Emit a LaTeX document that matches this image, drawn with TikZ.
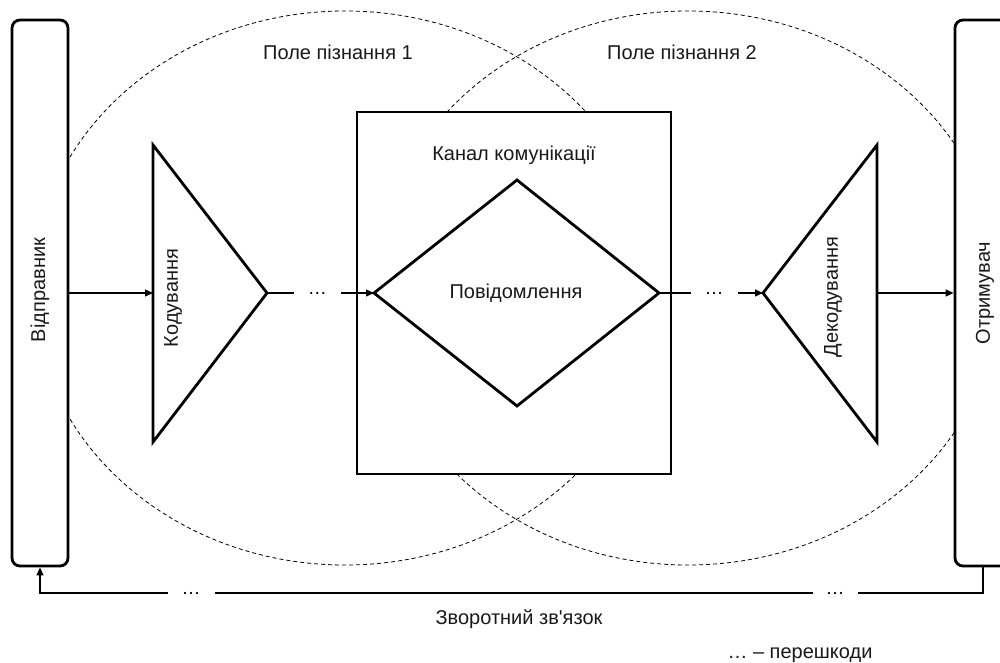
\documentclass[tikz,border=0pt]{standalone}
\usepackage{fontspec}
\setmainfont{Liberation Sans}[Ligatures=TeXOff]
\usetikzlibrary{arrows.meta}
\begin{document}
\begin{tikzpicture}[x=1pt,y=-1pt,
  thickline/.style={line width=2.8pt, line join=miter},
  box/.style={thickline, draw, fill=white, inner sep=0pt},
  conn/.style={line width=1.2pt},
  tip/.style={-{Triangle[length=8pt,width=7pt]}},
  field/.style={line width=0.8pt, dash pattern=on 4pt off 3pt},
  lbl/.style={font=\fontsize{20}{24}\selectfont, text=black!90, inner sep=0pt},
  gap/.style={fill=white, font=\fontsize{19}{22}\selectfont, inner xsep=14pt,
              inner ysep=3pt, text height=2pt, text depth=0pt}]

\useasboundingbox (0,0) rectangle (1000,663);
\fill[white] (0,0) rectangle (1000,663);
\clip (0,0) rectangle (1000,663);

% fields of knowledge
\draw[field] (345,288) ellipse [x radius=312, y radius=277];
\draw[field] (688,288) ellipse [x radius=312, y radius=277];

% sender and receiver
\node[box, rounded corners=8pt, minimum width=56pt, minimum height=546pt] (sender) at (40,293) {};
\node[box, rounded corners=8pt, minimum width=56pt, minimum height=546pt] (receiver) at (983,293) {};
\node[lbl, rotate=90] (sendertext) at (40,290) {Відправник};
\node[lbl, rotate=90] (receivertext) at (985,293) {Отримувач};

% communication channel
\node[box, minimum width=314pt, minimum height=362pt] (channel) at (514,293) {};
\node[lbl] (channeltext) at (514,155) {Канал комунікації};

% message
\coordinate (msgW) at (374,293);
\coordinate (msgN) at (517,180);
\coordinate (msgE) at (659,293);
\coordinate (msgS) at (517,406);
\draw[thickline, fill=white] (msgW) -- (msgN) -- (msgE) -- (msgS) -- cycle;
\node[lbl] (msgtext) at (516,293) {Повідомлення};

% encoding
\coordinate (encT) at (153,145);
\coordinate (encB) at (153,442);
\coordinate (encTip) at (267,293);
\coordinate (encIn) at (153,293);
\draw[thickline, fill=white] (encT) -- (encTip) -- (encB) -- cycle;
\node[lbl, rotate=90] (enctext) at (173,298) {Кодування};

% decoding
\coordinate (decT) at (877,145);
\coordinate (decB) at (877,442);
\coordinate (decTip) at (763,293);
\coordinate (decOut) at (877,293);
\draw[thickline, fill=white] (decT) -- (decTip) -- (decB) -- cycle;
\node[lbl, rotate=90] (dectext) at (833,297) {Декодування};

% flow of the message
\draw[conn, tip] (sender.east |- encIn) -- (encIn);
\draw[conn, tip] (encTip) -- node[gap, pos=0.47] (noise1) {…} (msgW);
\draw[conn, tip] (msgE) -- node[gap, pos=0.53] (noise2) {…} (decTip);
\draw[conn, tip] (decOut) -- (receiver.west |- decOut);

% feedback
\coordinate (fbR) at (983,593);
\coordinate (fbL) at (40,593);
\draw[conn, tip] (receiver.south) -- (fbR) -- (fbL) -- (sender.south);
\node[gap] (noise3) at (191,593) {…};
\node[gap, inner xsep=13pt] (noise4) at (835,593) {…};
\node[lbl] (fbtext) at (519,619) {Зворотний зв'язок};

% field labels and legend
\node[lbl] (field1text) at (338,52) {Поле пізнання 1};
\node[lbl] (field2text) at (682,52) {Поле пізнання 2};
\node[lbl] (legend) at (800,655) {… – перешкоди};
\end{tikzpicture}
\end{document}
